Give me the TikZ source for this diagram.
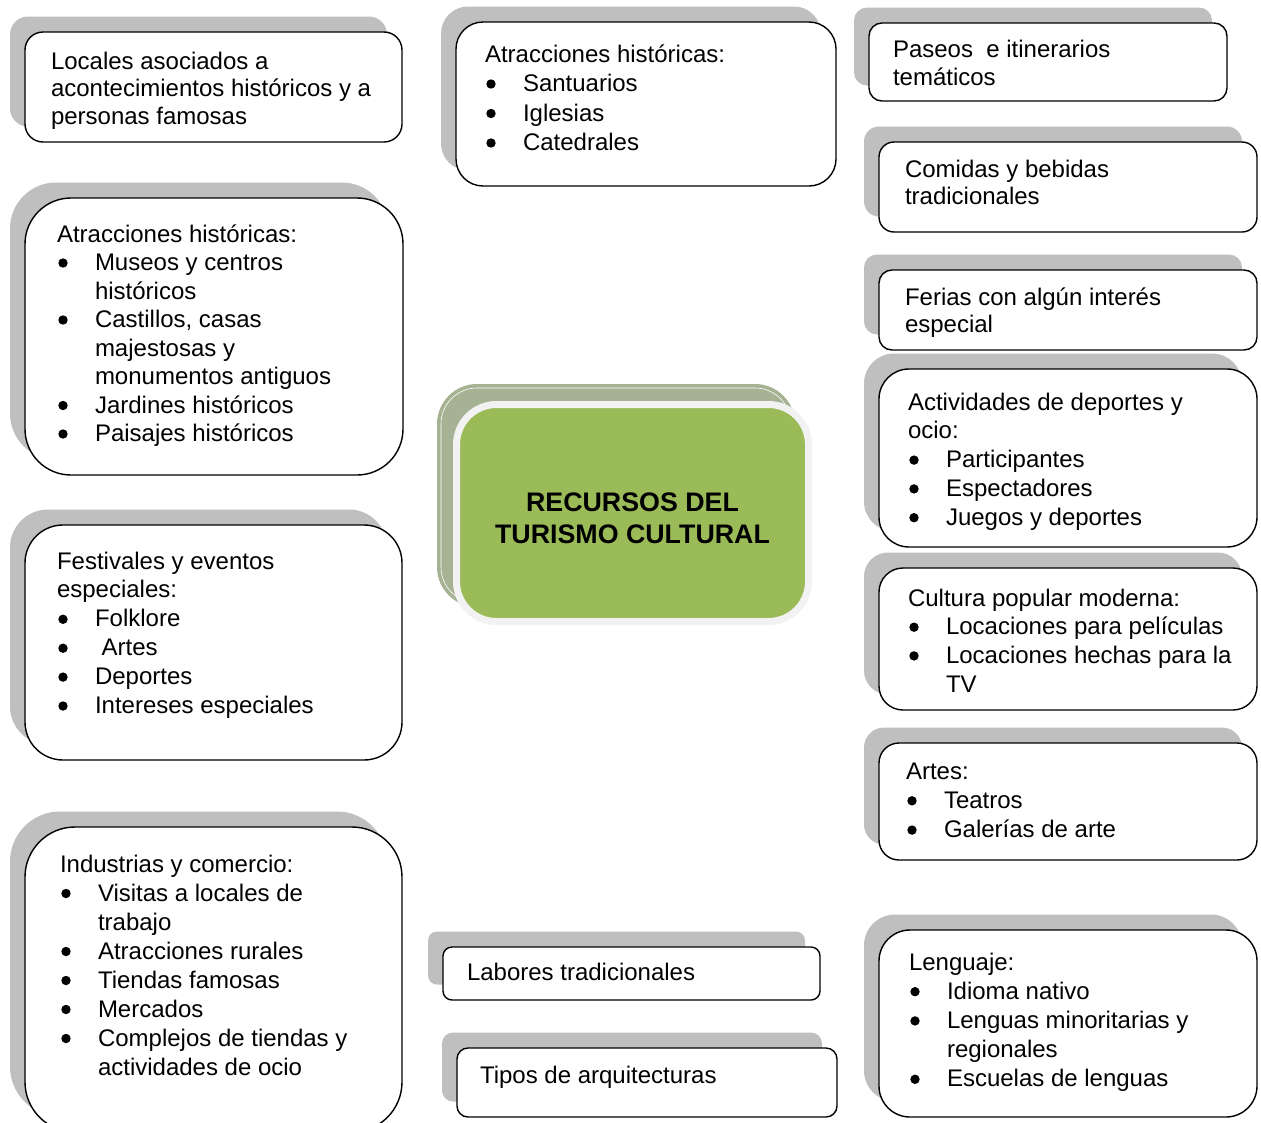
\documentclass[tikz,border=0pt]{standalone}
\usepackage{fontspec}
\setmainfont{Liberation Sans}
\definecolor{shd}{RGB}{191,191,191}
\definecolor{grn}{RGB}{155,187,89}
\definecolor{grnshd}{RGB}{166,178,148}
\definecolor{rim}{RGB}{242,242,242}

\newcommand\hl[1]{\hbox{#1}}
\newcommand\il[1]{\hbox{\hspace*{38pt}#1}}
\newcommand\cl[1]{\hbox{\hspace*{38pt}#1}}

\tikzset{
  shadowbox/.style={fill=shd, draw=none, anchor=north west, inner sep=0pt, outer sep=0pt},
  mainbox/.style={draw=black, line width=1.4pt, fill=white, anchor=north west, inner sep=0pt, outer sep=0pt},
  txt/.style={anchor=base west, inner sep=0pt, outer sep=0pt, font=\fontsize{24}{28.6}\selectfont},
  bulletdot/.style={fill=black},
}
% name, x, y, w, h, r
\newcommand\bx[6]{%
  \node[shadowbox, rounded corners=#6pt, minimum width=#4pt, minimum height=#5pt] (#1-s) at (#2-15, #3-15.5) {};
  \node[mainbox, rounded corners=#6pt, minimum width=#4pt, minimum height=#5pt] (#1) at (#2, #3) {};
}
% bullets: x0, first baseline, skip, list of line indices
\newcommand\buls[4]{%
  \foreach \k in {#4} {\fill[bulletdot] (#1+6, #2+\k*#3-7.5) circle (4.7pt);}
}

\begin{document}
\begin{tikzpicture}[x=1pt, y=-1pt]
\useasboundingbox (0,0) rectangle (1261,1122);
\clip (0,0) rectangle (1261,1122);

% ---------- left column ----------
\bx{loc}{25}{32}{377}{110}{18}
\node[txt] (loc-t) at (51,69) {\vtop{\baselineskip=27.5pt
  \hl{Locales asociados a}
  \hl{acontecimientos históricos y a}
  \hl{personas famosas}}};

\bx{atl}{25}{198}{378}{277}{46}
\node[txt] (atl-t) at (57,242) {\vtop{\baselineskip=28.5pt
  \hl{Atracciones históricas:}
  \il{Museos y centros}
  \cl{históricos}
  \il{Castillos, casas}
  \cl{majestosas y}
  \cl{monumentos antiguos}
  \il{Jardines históricos}
  \il{Paisajes históricos}}};
\buls{57}{242}{28.5}{1,3,6,7}

\bx{fes}{25}{525}{377}{235}{38}
\node[txt] (fes-t) at (57,569) {\vtop{\baselineskip=28.9pt
  \hl{Festivales y eventos}
  \hl{especiales:}
  \il{Folklore}
  \il{\hspace*{6.7pt}Artes}
  \il{Deportes}
  \il{Intereses especiales}}};
\buls{57}{569}{28.9}{2,3,4,5}

\bx{ind}{25}{827}{377}{305}{50}
\node[txt] (ind-t) at (60,872) {\vtop{\baselineskip=29pt
  \hl{Industrias y comercio:}
  \il{Visitas a locales de}
  \cl{trabajo}
  \il{Atracciones rurales}
  \il{Tiendas famosas}
  \il{Mercados}
  \il{Complejos de tiendas y}
  \cl{actividades de ocio}}};
\buls{60}{872}{29}{1,3,4,5,6}

% ---------- middle column ----------
\bx{atm}{456}{22}{380}{164}{27}
\node[txt] (atm-t) at (485,62) {\vtop{\baselineskip=29.5pt
  \hl{Atracciones históricas:}
  \il{Santuarios}
  \il{Iglesias}
  \il{Catedrales}}};
\buls{485}{62}{29.5}{1,2,3}

% central node
\node[fill=grnshd, draw=none, anchor=north west, inner sep=0pt, outer sep=0pt,
      rounded corners=40pt, minimum width=358pt, minimum height=223pt] (cen-s) at (437,384) {};
\node[draw=white, line width=0.6pt, anchor=north west, inner sep=0pt, outer sep=0pt,
      rounded corners=36pt, minimum width=350pt, minimum height=215pt] (cen-l) at (441,388) {};
\node[fill=grn, draw=rim, line width=7pt, anchor=north west, inner sep=0pt, outer sep=0pt,
      rounded corners=40pt, minimum width=352pt, minimum height=217pt] (cen) at (456.5,404.5) {};
\node[anchor=base, inner sep=0pt, font=\fontsize{26.8}{32}\selectfont\bfseries] (cen-t) at (632.5,511.5)
  {\begin{tabular}[t]{@{}c@{}}RECURSOS DEL\\TURISMO CULTURAL\end{tabular}};

\bx{lab}{443}{947}{377}{53}{9}
\node[txt] (lab-t) at (467,980) {Labores tradicionales};

\bx{tip}{457}{1048}{380}{69}{11}
\node[txt] (tip-t) at (480,1083) {Tipos de arquitecturas};

% ---------- right column ----------
\bx{pas}{869}{23}{358}{78}{13}
\node[txt] (pas-t) at (893,57) {\vtop{\baselineskip=28pt
  \hl{Paseos\ \ e itinerarios}
  \hl{temáticos}}};

\bx{com}{879}{142}{378}{90}{15}
\node[txt] (com-t) at (905,177) {\vtop{\baselineskip=27pt
  \hl{Comidas y bebidas}
  \hl{tradicionales}}};

\bx{fer}{879}{270}{378}{80}{13}
\node[txt] (fer-t) at (905,305) {\vtop{\baselineskip=27pt
  \hl{Ferias con algún interés}
  \hl{especial}}};

\bx{act}{879}{369}{378}{178}{30}
\node[txt] (act-t) at (908,410) {\vtop{\baselineskip=28.8pt
  \hl{Actividades de deportes y}
  \hl{ocio:}
  \il{Participantes}
  \il{Espectadores}
  \il{Juegos y deportes}}};
\buls{908}{410}{28.8}{2,3,4}

\bx{cul}{879}{568}{378}{142}{24}
\node[txt] (cul-t) at (908,606) {\vtop{\baselineskip=28.7pt
  \hl{Cultura popular moderna:}
  \il{Locaciones para películas}
  \il{Locaciones hechas para la}
  \cl{TV}}};
\buls{908}{606}{28.7}{1,2}

\bx{art}{879}{743}{378}{117}{20}
\node[txt] (art-t) at (906,779) {\vtop{\baselineskip=29.3pt
  \hl{Artes:}
  \il{Teatros}
  \il{Galerías de arte}}};
\buls{906}{779}{29.3}{1,2}

\bx{len}{879}{930}{378}{187}{31}
\node[txt] (len-t) at (909,970) {\vtop{\baselineskip=29.2pt
  \hl{Lenguaje:}
  \il{Idioma nativo}
  \il{Lenguas minoritarias y}
  \cl{regionales}
  \il{Escuelas de lenguas}}};
\buls{909}{970}{29.2}{1,2,4}

\end{tikzpicture}
\end{document}
